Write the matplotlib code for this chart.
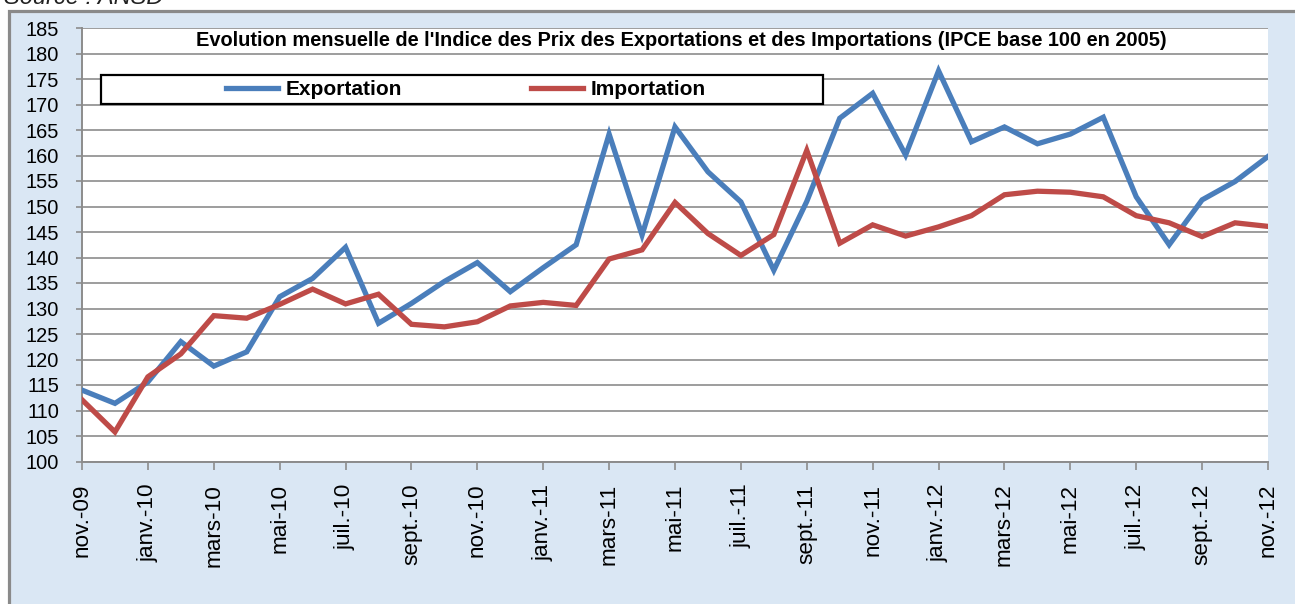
import matplotlib
matplotlib.use("Agg")
import matplotlib.pyplot as plt
from matplotlib.patches import Rectangle
from matplotlib.lines import Line2D

W, H = 1295, 604
plt.rcParams['font.family'] = ['Liberation Sans', 'DejaVu Sans']

months = ["nov.-09", "déc.-09", "janv.-10", "févr.-10", "mars-10", "avr.-10", "mai-10", "juin-10",
          "juil.-10", "août-10", "sept.-10", "oct.-10", "nov.-10", "déc.-10", "janv.-11", "févr.-11",
          "mars-11", "avr.-11", "mai-11", "juin-11", "juil.-11", "août-11", "sept.-11", "oct.-11",
          "nov.-11", "déc.-11", "janv.-12", "févr.-12", "mars-12", "avr.-12", "mai-12", "juin-12",
          "juil.-12", "août-12", "sept.-12", "oct.-12", "nov.-12"]
exportation = [114.0, 111.4, 115.6, 123.5, 118.7, 121.5, 132.3, 135.9, 142.0, 127.1, 131.0, 135.3,
               139.0, 133.3, 138.0, 142.5, 164.2, 144.4, 165.6, 156.8, 150.9, 137.5, 151.0, 167.3,
               172.2, 160.1, 176.6, 162.7, 165.6, 162.3, 164.2, 167.5, 151.9, 142.5, 151.3, 154.9,
               159.8]
importation = [112.1, 105.8, 116.6, 121.1, 128.6, 128.1, 130.8, 133.8, 130.9, 132.8, 126.9, 126.4,
               127.4, 130.5, 131.2, 130.6, 139.7, 141.5, 150.8, 144.7, 140.4, 144.5, 161.0, 142.8,
               146.4, 144.2, 146.0, 148.2, 152.3, 153.0, 152.8, 151.9, 148.2, 146.8, 144.1, 146.8,
               146.1]
yticks = list(range(100, 186, 5))
title = "Evolution mensuelle de l'Indice des Prix des Exportations et des Importations (IPCE base 100 en 2005)"
series_names = ["Exportation", "Importation"]
colors = ["#4a7ebb", "#be4b48"]

fig = plt.figure(figsize=(W / 100, H / 100), dpi=100)
fig.patch.set_facecolor("white")

def fx(px):
    return px / W

def fy(py):
    return 1 - py / H

# outer frame with light blue background
frame = Rectangle((fx(8.5), fy(H + 20)), fx(W + 20), (H + 20 - 10.8) / H,
                  transform=fig.transFigure, facecolor="#dae7f4", edgecolor="#8a8a8a",
                  linewidth=2.3, zorder=-5)
fig.patches.append(frame)

fig.text(fx(4), fy(3.5), "Source : ANSD", fontsize=17, style="italic", ha="left",
         va="baseline", color="#222222")

left, right, top, bottom = 82, 1268, 28, 461.5
ax = fig.add_axes([fx(left), fy(bottom), fx(right - left), (bottom - top) / H])
ax.set_zorder(1)
ax.set_facecolor("white")

x = list(range(len(months)))
ax.plot(x, exportation, color=colors[0], linewidth=3.8, solid_joinstyle="miter", zorder=3)
ax.plot(x, importation, color=colors[1], linewidth=3.8, solid_joinstyle="miter", zorder=3)

ax.set_xlim(0, len(months) - 1)
ax.set_ylim(100, 185)
ax.set_yticks(yticks)
ax.set_yticklabels([str(v) for v in yticks], fontsize=14.4)
ax.set_xticks(x[::2])
ax.set_xticklabels(months[::2], rotation=90, ha="center", va="top", fontsize=16.2)
ax.grid(axis="y", color="#8c8c8c", linewidth=1.2, zorder=1)
ax.set_axisbelow(True)
for s in ["top", "right"]:
    ax.spines[s].set_visible(False)
for s in ["left", "bottom"]:
    ax.spines[s].set_color("#8c8c8c")
    ax.spines[s].set_linewidth(1.4)
ax.tick_params(axis="y", length=4.5, width=1.2, color="#8c8c8c", pad=12)
ax.tick_params(axis="x", length=6, width=1.2, color="#8c8c8c", pad=10)

t = fig.text(fx(681), fy(40), title, fontsize=14.4, fontweight="bold", ha="center", va="center")
t.set_zorder(10)

# legend box
box = Rectangle((fx(101), fy(104)), fx(823 - 101), (104 - 75) / H, transform=fig.transFigure,
                facecolor="white", edgecolor="black", linewidth=1.6, zorder=8)
fig.patches.append(box)
handles = [Line2D([], [], color=c, linewidth=3.8) for c in colors]
leg = fig.legend(handles, series_names, ncol=2, loc="center",
                 bbox_to_anchor=(fx(466), fy(89.5)), frameon=False,
                 prop={"size": 15, "weight": "bold"}, handlelength=2.5,
                 handletextpad=0.35, columnspacing=6.2)
leg.set_zorder(9)

fig.savefig("out.png", dpi=100)
